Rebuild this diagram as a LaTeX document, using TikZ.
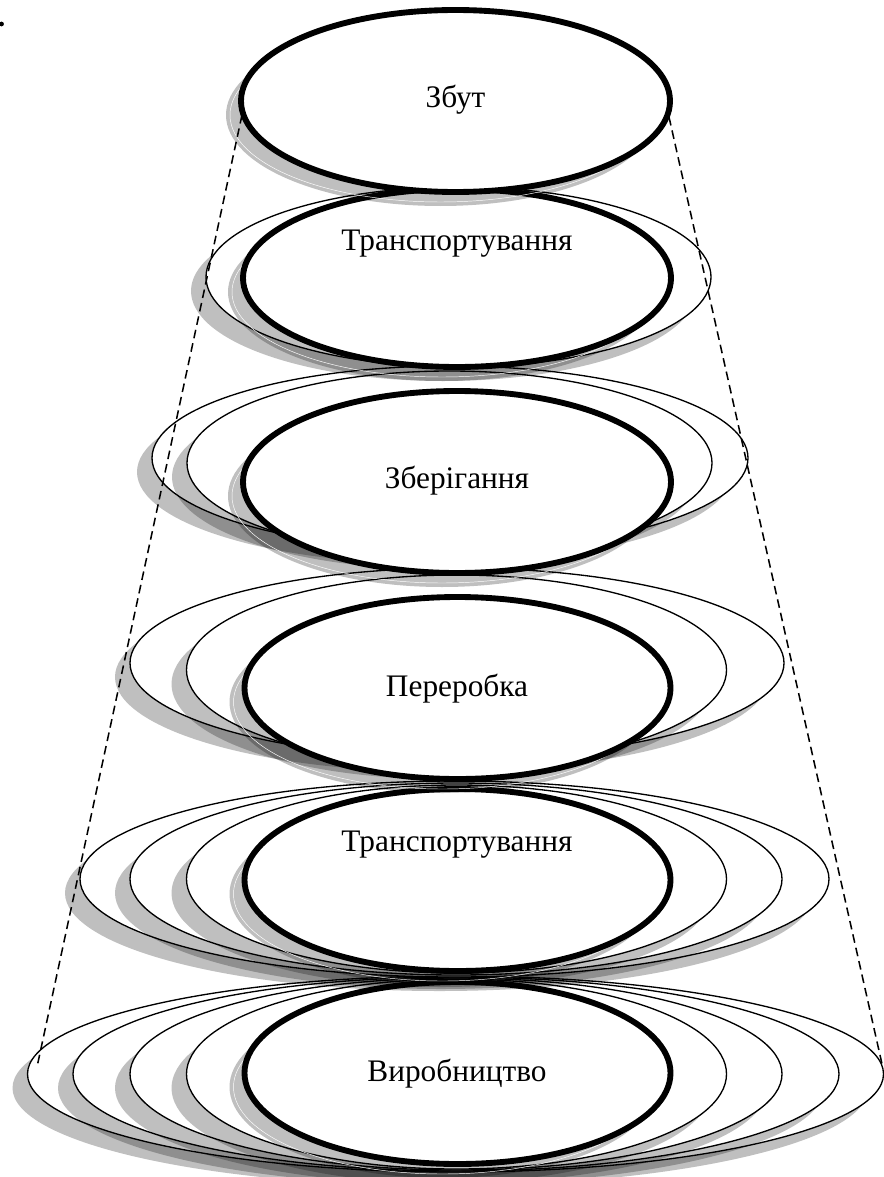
\documentclass[tikz,border=0pt]{standalone}
\usepackage{fontspec}
\setmainfont{Liberation Serif}
\tikzset{
  dropshadow/.style={fill=black, fill opacity=0.25},
  shadowrim/.style={draw=white, line width=0.35pt},
  ringthin/.style={draw=black, fill=white, line width=1pt},
  ringbold/.style={draw=black, fill=white, line width=4.4pt},
  guide/.style={draw=black, line width=1.15pt, dash pattern=on 6.5pt off 3.8pt},
  stagetext/.style={anchor=base, inner sep=0pt, font=\rmfamily\fontsize{23.5}{28}\selectfont},
}
% thin ring with its drop shadow: centre x, centre y, x radius, y radius
\newcommand{\ThinRing}[4]{%
  \fill[dropshadow] (#1-15,#2+14) ellipse [x radius=#3, y radius=#4];
  \path[ringthin] (#1,#2) ellipse [x radius=#3, y radius=#4];}
% bold front ring with its drop shadow
\newcommand{\BoldRing}[4]{%
  \fill[dropshadow] (#1-15,#2+14) ellipse [x radius=#3, y radius=#4];
  \path[shadowrim] (#1-15,#2+14) ellipse [x radius=#3-4, y radius=#4-4];
  \path[ringbold] (#1,#2) ellipse [x radius=#3, y radius=#4];}

\begin{document}
\begin{tikzpicture}[x=0.75pt, y=-0.75pt]
\useasboundingbox (0,0) rectangle (883,1177);

% stray point in the corner
\fill (1.5,24) circle [radius=2.4];

% level 6 (bottom)
\ThinRing{455.5}{1074}{428}{98}
\ThinRing{456}{1074}{383}{97}
\ThinRing{456}{1074}{326}{96}
\ThinRing{456.5}{1074}{270}{95}
\BoldRing{457.5}{1073}{213}{91}

% level 5
\ThinRing{454.5}{879}{374.5}{98}
\ThinRing{456}{879}{326}{96}
\ThinRing{456.5}{879}{270}{94}
\BoldRing{457.5}{880}{213}{91}

% level 4
\ThinRing{457}{663}{327}{95}
\ThinRing{456.5}{670}{270}{95}
\BoldRing{457.5}{688}{213}{91}

% level 3
\ThinRing{450}{458}{298}{92}
\ThinRing{449.5}{463}{262.5}{92}
\BoldRing{457}{482}{214}{91}

% level 2
\ThinRing{458.5}{277}{252.5}{90}
\BoldRing{457}{278}{214}{89}

% level 1 (top)
\BoldRing{455.5}{101}{214.5}{91}

% outline of the cone
\coordinate (guideTL) at (242,115);
\coordinate (guideBL) at (37,1067);
\coordinate (guideTR) at (669,117);
\coordinate (guideBR) at (882,1064);
\draw[guide] (guideTL) -- (guideBL);
\draw[guide] (guideTR) -- (guideBR);

% stage names
\node[stagetext] (zbut)    at (455.5,108) {Збут};
\node[stagetext] (trans2)  at (457,250)   {Транспортування};
\node[stagetext] (zber)    at (457,488)   {Зберігання};
\node[stagetext] (pererob) at (457,696)   {Переробка};
\node[stagetext] (trans5)  at (457,851)   {Транспортування};
\node[stagetext] (vyrob)   at (457,1081)  {Виробництво};
\end{tikzpicture}
\end{document}
